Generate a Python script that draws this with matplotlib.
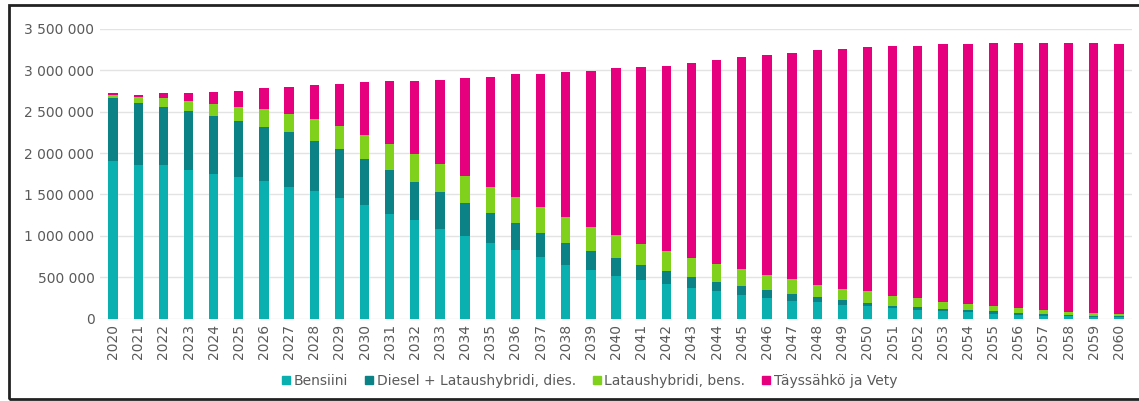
import matplotlib
matplotlib.use("Agg")
import matplotlib.pyplot as plt
from matplotlib.ticker import FuncFormatter, MultipleLocator
from matplotlib.lines import Line2D
from matplotlib.patches import Rectangle
import numpy as np

# vuodet 2020-2060
years = list(range(2020, 2061))

# autokanta käyttövoimittain (tuhatta kpl), luettu kuvasta
bensiini = [1899, 1855, 1855, 1794, 1750, 1710, 1661, 1589, 1540, 1456,
            1371, 1266, 1185, 1081, 992, 911, 827, 738, 645, 585,
            516, 464, 415, 363, 331, 282, 246, 214, 194, 161,
            149, 121, 97, 85, 81, 60, 48, 36, 28, 20, 16]
diesel = [766, 754, 705, 714, 693, 681, 657, 665, 609, 592,
          556, 524, 468, 451, 407, 367, 330, 298, 270, 229,
          218, 181, 162, 141, 113, 109, 93, 88, 60, 61,
          36, 32, 40, 32, 20, 25, 21, 20, 16, 16, 12]
phev_bens = [32, 68, 105, 121, 150, 169, 210, 222, 262, 274,
             295, 315, 331, 331, 327, 311, 311, 311, 311, 291,
             270, 258, 241, 230, 217, 206, 189, 178, 157, 137,
             142, 125, 105, 85, 72, 68, 52, 45, 37, 33, 24]
bev = [25, 24, 57, 93, 145, 194, 258, 326, 407, 517,
       633, 766, 887, 1024, 1177, 1334, 1487, 1608, 1750, 1887,
       2020, 2137, 2238, 2359, 2464, 2560, 2661, 2733, 2835, 2903,
       2955, 3020, 3056, 3112, 3141, 3177, 3209, 3229, 3249, 3261, 3262]

labels = ["Bensiini", "Diesel + Lataushybridi, dies.",
          "Lataushybridi, bens.", "Täyssähkö ja Vety"]
colors = ["#0aafb0", "#0a8286", "#7fd11b", "#e6007e"]

series = [np.array(s) * 1000 for s in (bensiini, diesel, phev_bens, bev)]

fig = plt.figure(figsize=(11.39, 4.01), dpi=100)
ax = fig.add_axes([100 / 1139, 1 - 318.5 / 401, 1032 / 1139, 289.5 / 401])

x = np.arange(len(years))
bottom = np.zeros(len(years))
for s, c in zip(series, colors):
    ax.bar(x, s, bottom=bottom, width=0.37, color=c, linewidth=0, zorder=3)
    bottom += s

ax.set_xlim(-0.52, len(years) - 0.48)
ax.set_ylim(0, 3500000)
ax.yaxis.set_major_locator(MultipleLocator(500000))
ax.yaxis.set_major_formatter(FuncFormatter(lambda v, p: f"{int(v):,}".replace(",", " ")))
ax.grid(axis="y", color="#e3e3e3", linewidth=1, zorder=0)
ax.set_xticks(x)
ax.set_xticklabels([str(y) for y in years], rotation=90)
ax.tick_params(axis="both", length=0, labelsize=10, labelcolor="#5a5a5a")
ax.tick_params(axis="y", pad=4)
ax.tick_params(axis="x", pad=4)
for sp in ax.spines.values():
    sp.set_visible(False)

# selite
handles = [Line2D([], [], marker="s", linestyle="", markersize=5.5, color=c) for c in colors]
fig.legend(handles, labels, loc="center", bbox_to_anchor=(0.518, 1 - 381 / 401),
           ncol=4, frameon=False, fontsize=10, labelcolor="#5a5a5a",
           handlelength=0.5, handletextpad=0.3, columnspacing=1.25)

# kehys
fig.patches.append(Rectangle((9 / 1139, 1 - 399 / 401), 1.2, 394 / 401,
                             transform=fig.transFigure, fill=False,
                             edgecolor="#222222", linewidth=2))

fig.savefig("out.png", dpi=100)
